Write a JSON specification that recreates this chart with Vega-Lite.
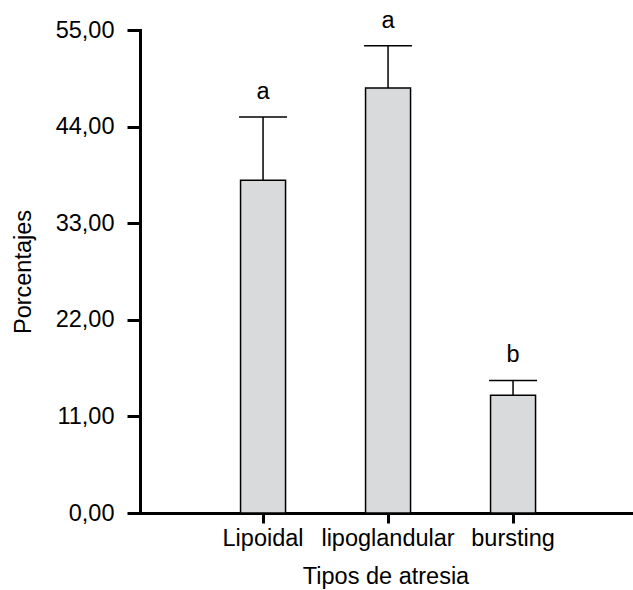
{
  "$schema": "https://vega.github.io/schema/vega-lite/v6.json",
  "autosize": {"type": "none"},
  "padding": {"left": 140, "top": 30, "right": 2, "bottom": 77},
  "width": 491,
  "height": 483,
  "background": "white",
  "config": {
    "view": {"stroke": null},
    "font": "Liberation Sans",
    "axis": {
      "labelFont": "Liberation Sans",
      "titleFont": "Liberation Sans",
      "labelFontSize": 23.5,
      "titleFontSize": 23.5,
      "titleFontWeight": "normal",
      "labelColor": "black",
      "titleColor": "black",
      "domainColor": "black",
      "tickColor": "black",
      "domainWidth": 3,
      "tickWidth": 3,
      "grid": false
    }
  },
  "data": {
    "values": [
      {"tipo": "Lipoidal", "media": 37.9, "superior": 45.1, "letra": "a"},
      {"tipo": "lipoglandular", "media": 48.4, "superior": 53.2, "letra": "a"},
      {"tipo": "bursting", "media": 13.4, "superior": 15.1, "letra": "b"}
    ]
  },
  "encoding": {
    "x": {
      "field": "tipo",
      "type": "nominal",
      "sort": null,
      "scale": {"paddingInner": 0.64, "paddingOuter": 0.784, "align": 0.513},
      "axis": {
        "title": "Tipos de atresia",
        "labelAngle": 0,
        "tickSize": 10,
        "labelPadding": 3,
        "titlePadding": 15,
        "domainCap": "square"
      }
    }
  },
  "layer": [
    {
      "mark": {"type": "rule", "stroke": "black", "strokeWidth": 1.5},
      "encoding": {
        "y": {"field": "media", "type": "quantitative"},
        "y2": {"field": "superior"}
      }
    },
    {
      "mark": {"type": "tick", "orient": "horizontal", "size": 48, "thickness": 1.5, "color": "black", "opacity": 1},
      "encoding": {
        "y": {"field": "superior", "type": "quantitative"}
      }
    },
    {
      "mark": {"type": "bar", "fill": "#d9dadc", "stroke": "black", "strokeWidth": 1.5},
      "encoding": {
        "y": {
          "field": "media",
          "type": "quantitative",
          "scale": {"domain": [0, 55], "nice": false},
          "axis": {
            "title": "Porcentajes",
            "values": [0, 11, 22, 33, 44, 55],
            "labelExpr": "replace(format(datum.value, '.2f'), '.', ',')",
            "tickSize": 13,
            "labelPadding": 13,
            "titlePadding": 20,
            "domainCap": "square"
          }
        }
      }
    },
    {
      "mark": {"type": "text", "fontSize": 23.5, "font": "Liberation Sans", "color": "black", "baseline": "middle", "dy": -25},
      "encoding": {
        "y": {"field": "superior", "type": "quantitative"},
        "text": {"field": "letra"}
      }
    }
  ]
}
